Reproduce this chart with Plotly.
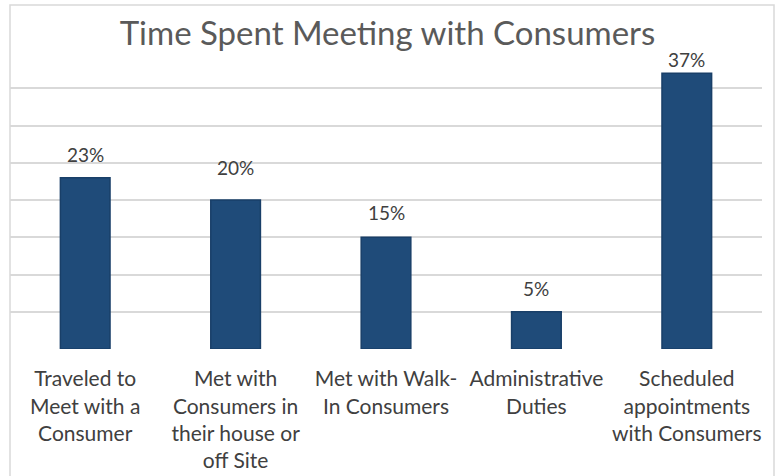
import plotly.graph_objects as go

# Share of time spent on each activity (percent)
categories = [
    "Traveled to<br>Meet with a<br>Consumer",
    "Met with<br>Consumers in<br>their house or<br>off Site",
    "Met with Walk-<br>In Consumers",
    "Administrative<br>Duties",
    "Scheduled<br>appointments<br>with Consumers",
]
values = [23, 20, 15, 5, 37]
value_labels = ["23%", "20%", "15%", "5%", "37%"]

chart_title = "Time Spent Meeting with Consumers"

BAR_COLOR = "#1f4b79"
BAR_EDGE = "#193f68"
GRID_COLOR = "#d9d9d9"
TEXT_COLOR = "#404040"
FONT = "Lato, 'Open Sans', sans-serif"

fig = go.Figure()
fig.add_trace(
    go.Bar(
        x=list(range(len(categories))),
        y=values,
        width=0.33,
        marker=dict(color=BAR_COLOR, line=dict(color=BAR_EDGE, width=1.5)),
        hoverinfo="skip",
    )
)

# Value labels above each bar (pixel nudges keep them clear of the top edge)
label_nudge = [21, 30, 22, 21, 11]
for i, (v, t) in enumerate(zip(values, value_labels)):
    fig.add_annotation(
        x=i, y=v, text=t, showarrow=False,
        yanchor="bottom", yshift=label_nudge[i] - 11,
        font=dict(family=FONT, size=19, color=TEXT_COLOR),
    )

# Light frame around the chart area
fig.add_shape(
    type="rect", xref="paper", yref="paper",
    x0=0, x1=(774 - 10) / 752, y0=-0.6, y1=(349 - 5) / 298,
    line=dict(color=GRID_COLOR, width=1.5), fillcolor="rgba(0,0,0,0)",
    layer="below",
)

fig.update_layout(
    width=775, height=476,
    margin=dict(l=10, r=13, t=51, b=127),
    paper_bgcolor="white", plot_bgcolor="white",
    showlegend=False,
    title=dict(
        text=chart_title, x=0.5, xref="container", xanchor="center",
        y=1 - 33 / 476, yref="container", yanchor="middle",
        font=dict(family=FONT, size=33, color="#5a5a5a"),
    ),
    bargap=0.67,
)

fig.update_xaxes(
    tickmode="array",
    tickvals=list(range(len(categories))),
    ticktext=categories,
    range=[-0.5, len(categories) - 0.5],
    showgrid=False, zeroline=False, showline=False,
    ticks="outside", ticklen=11, tickcolor="rgba(0,0,0,0)",
    tickfont=dict(family=FONT, size=21, color=TEXT_COLOR),
    tickangle=0, automargin=False,
)
fig.update_yaxes(
    range=[0, 40], dtick=5,
    showgrid=True, gridcolor=GRID_COLOR, gridwidth=1.5,
    zeroline=False, showline=False, showticklabels=False,
    automargin=False,
)

fig.write_html("out.html")
